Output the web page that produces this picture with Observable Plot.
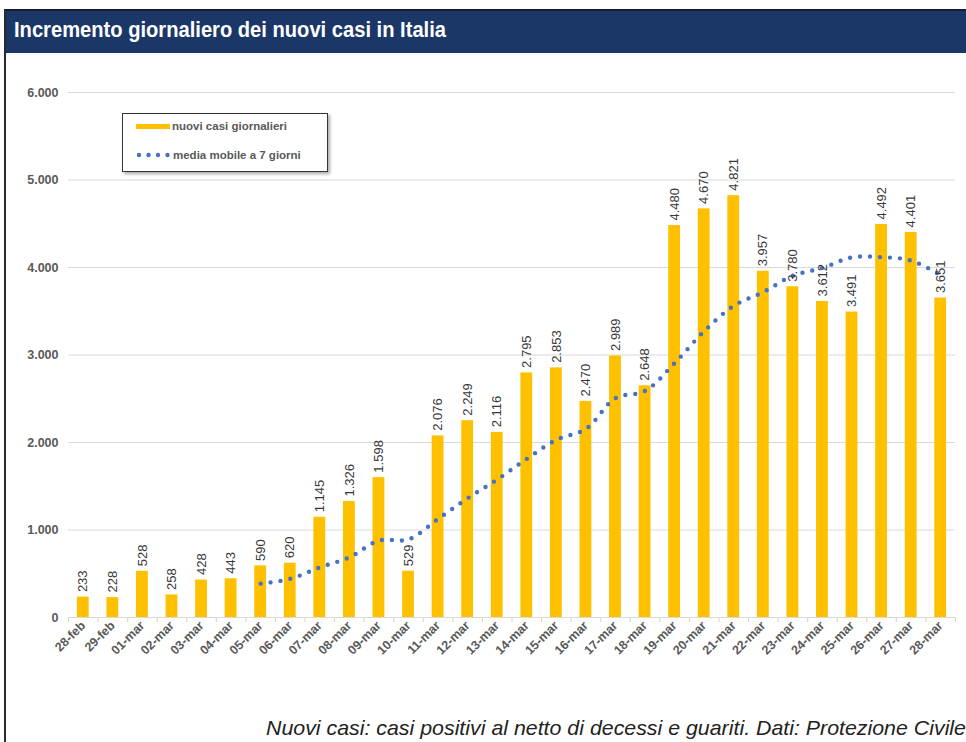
<!DOCTYPE html>
<html>
<head>
<meta charset="utf-8">
<script src="https://cdn.jsdelivr.net/npm/d3@7"></script>
<script src="https://cdn.jsdelivr.net/npm/@observablehq/plot@0.6"></script>
<style>
  html, body { margin: 0; padding: 0; background: #fff; }
  #wrap { position: relative; width: 966px; height: 742px; overflow: hidden; background: #fff; }
  #frame { position: absolute; left: 4px; top: 9px; width: 0; height: 740px; border-left: 2px solid #2a2a2a; }
  #title { position: absolute; left: 4px; top: 9px; width: 962px; height: 44px; background: #1b3768;
    border-top: 2px solid #1a1a2a; box-sizing: border-box; }
  #title span { position: absolute; left: 10px; top: 6px; color: #fff; font-family: "Liberation Sans", Arial, sans-serif;
    font-weight: bold; font-size: 22px; white-space: nowrap; transform-origin: 0 0; }
  #chart { position: absolute; left: 0; top: 53px; width: 966px; }
  #chart svg { max-width: none; }
  #chart svg g[aria-label^="x-axis"], #chart svg g[aria-label^="y-axis"] { font-size: 12.5px; font-weight: bold; fill: #595959; }
  #legend { position: absolute; left: 122px; top: 113px; width: 204px; height: 57px; border: 1px solid #333;
    background: #fff; box-shadow: 2px 2px 3px #aaa; font-family: "Liberation Sans", Arial, sans-serif;
    font-weight: bold; font-size: 11.5px; color: #595959; }
  .lg { position: absolute; left: 13px; display: flex; align-items: center; white-space: nowrap; }
  .sw-bar { width: 34px; height: 5px; background: #ffc000; margin-right: 2px; }
  .sw-dots { width: 36px; height: 6px; margin-right: 1px; }
  #caption { position: absolute; left: 266px; top: 716px; font-family: "Liberation Sans", Arial, sans-serif;
    font-style: italic; font-size: 21px; color: #222; white-space: nowrap; transform-origin: 0 0; }
</style>
</head>
<body>
<div id="wrap">
  <div id="title"><span id="titleText">Incremento giornaliero dei nuovi casi in Italia</span></div>
  <div id="frame"></div>
  <div id="chart"></div>
  <div id="legend">
    <div class="lg" style="top:6px;"><div class="sw-bar"></div>nuovi casi giornalieri</div>
    <div class="lg" style="top:35px;"><svg class="sw-dots" viewBox="0 0 36 6"><g fill="#4472c4"><circle cx="3" cy="3" r="2.2"/><circle cx="12.5" cy="3" r="2.2"/><circle cx="22" cy="3" r="2.2"/><circle cx="31.5" cy="3" r="2.2"/></g></svg>media mobile a 7 giorni</div>
  </div>
  <div id="caption">Nuovi casi: casi positivi al netto di decessi e guariti. Dati: Protezione Civile</div>
</div>
<script>
const dates = ["28-feb","29-feb","01-mar","02-mar","03-mar","04-mar","05-mar","06-mar","07-mar","08-mar",
  "09-mar","10-mar","11-mar","12-mar","13-mar","14-mar","15-mar","16-mar","17-mar","18-mar",
  "19-mar","20-mar","21-mar","22-mar","23-mar","24-mar","25-mar","26-mar","27-mar","28-mar"];
const nuoviCasi = [233,228,528,258,428,443,590,620,1145,1326,
  1598,529,2076,2249,2116,2795,2853,2470,2989,2648,
  4480,4670,4821,3957,3780,3612,3491,4492,4401,3651];
const mediaDates = ["05-mar","06-mar","07-mar","08-mar","09-mar","10-mar","11-mar","12-mar","13-mar","14-mar",
  "15-mar","16-mar","17-mar","18-mar","19-mar","20-mar","21-mar","22-mar","23-mar","24-mar",
  "25-mar","26-mar","27-mar","28-mar"];
const mediaMobile = [387,442,573,687,879,893,1126,1363,1577,1813,
  2031,2155,2507,2589,2907,3272,3562,3719,3906,3995,
  4116,4118,4079,3912];
const yTicks = [0,1000,2000,3000,4000,5000,6000];

const it = d3.formatLocale({decimal: ",", thousands: ".", grouping: [3], currency: ["", "€"]});
const fmt = it.format(",");

const bars = dates.map((d, i) => ({date: d, value: nuoviCasi[i]}));
const media = mediaDates.map((d, i) => ({date: d, value: mediaMobile[i]}));

const W = 966, mL = 68, mR = 11;
const step = (W - mL - mR) / dates.length;
const inset = step * 0.3;

const plot = Plot.plot({
  width: W,
  height: 624,
  marginLeft: mL,
  marginRight: mR,
  marginTop: 39,
  marginBottom: 60,
  style: {fontFamily: "'Liberation Sans', Arial, sans-serif", fontSize: "12px", color: "#595959", background: "transparent", overflow: "visible"},
  x: {type: "band", domain: dates, padding: 0, round: false, label: null, tickSize: 0, tickRotate: -45, tickPadding: 6},
  y: {domain: [0, 6000], ticks: yTicks, tickFormat: fmt, label: null, tickSize: 0, tickPadding: 10},
  marks: [
    Plot.ruleY(yTicks, {stroke: "#d9d9d9", strokeWidth: 1.2}),
    Plot.ruleX(dates, {x: d => d, y1: 0, y2: 0, dx: -step / 2, insetBottom: -5, stroke: "#d9d9d9", strokeWidth: 1.2}),
    Plot.ruleX(dates.slice(-1), {x: d => d, y1: 0, y2: 0, dx: step / 2, insetBottom: -5, stroke: "#d9d9d9", strokeWidth: 1.2}),
    Plot.barY(bars, {x: "date", y: "value", fill: "#ffc000", insetLeft: inset, insetRight: inset}),
    Plot.line(media, {x: "date", y: "value", curve: "catmull-rom", stroke: "#4472c4", strokeWidth: 4.4, strokeLinecap: "round", strokeDasharray: "0 10"}),
    Plot.text(bars, {x: "date", y: "value", text: d => fmt(d.value), rotate: -90, textAnchor: "start", lineAnchor: "middle", dy: -5,
      fill: "#383838", fontSize: 13, fontWeight: "normal"})
  ]
});
document.getElementById("chart").appendChild(plot);

function fitWidth(el, target) {
  const w = el.getBoundingClientRect().width;
  if (w > 0) el.style.transform = `scaleX(${target / w})`;
}
fitWidth(document.getElementById("titleText"), 432);
fitWidth(document.getElementById("caption"), 700);
</script>
</body>
</html>
